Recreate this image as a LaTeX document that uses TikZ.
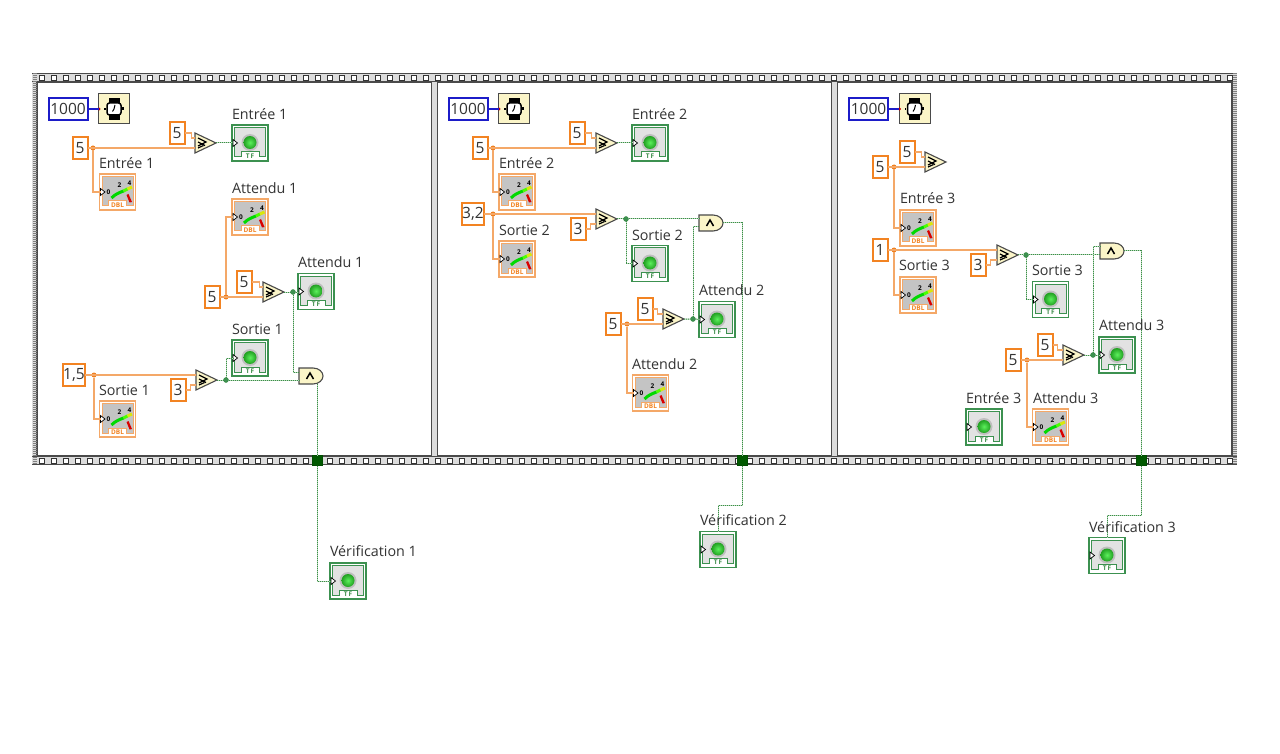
\documentclass[tikz,border=0pt]{standalone}
\usepackage{fontspec}
\setmainfont{Open Sans}
\definecolor{orgB}{HTML}{F28322}
\definecolor{orgW}{HTML}{F4A868}
\definecolor{orgJ}{HTML}{F08020}
\definecolor{grnD}{HTML}{3C8C48}
\definecolor{grnL}{HTML}{B5DAB8}
\definecolor{grnB}{HTML}{3C9150}
\definecolor{ledI}{HTML}{5CF05C}
\definecolor{ledO}{HTML}{22A022}
\definecolor{bluB}{HTML}{1C1CC8}
\definecolor{cream}{HTML}{FBF5C8}
\definecolor{panelG}{HTML}{E2E2E2}
\definecolor{meterG}{HTML}{C4C4C4}
\definecolor{txtG}{HTML}{333333}
\definecolor{edgeG}{HTML}{4A4A4A}
\definecolor{stripG}{HTML}{DCDCDC}
\tikzset{
 lab/.style={anchor=west,inner sep=0pt,outer sep=0pt,text=txtG,font=\fontsize{14.3}{16}\selectfont},
 cst/.style={draw=orgB,line width=2pt,fill=white,inner sep=0pt,outer sep=0pt,minimum width=15pt,minimum height=22pt,text=txtG,font=\fontsize{15.5}{17}\selectfont},
 cstb/.style={cst,draw=bluB,minimum width=39pt},
 tinyt/.style={inner sep=0pt,font=\fontsize{6.5}{7}\selectfont\bfseries},
 indbox/.style={draw=grnB,line width=1.1pt,fill=white,minimum size=36pt,inner sep=0pt,outer sep=0pt},
 metbox/.style={draw=orgW,line width=1.1pt,fill=white,minimum size=36pt,inner sep=0pt,outer sep=0pt},
 watchbox/.style={draw=edgeG,line width=1pt,fill=cream,minimum width=31pt,minimum height=30pt,inner sep=0pt,outer sep=0pt},
 tunnel/.style={draw=black!70!green,fill=green!35!black,line width=.6pt,minimum size=10pt,inner sep=0pt,outer sep=0pt},
 ojun/.style={circle,fill=orgJ,minimum size=5pt,inner sep=0pt,outer sep=0pt},
 gjun/.style={circle,fill=grnB,draw=grnD,line width=.4pt,minimum size=5pt,inner sep=0pt,outer sep=0pt},
 owire/.style={draw=orgW,line width=1.5pt},
 gwire/.style={draw=grnD,line width=1pt,dash pattern=on 1pt off 1pt,preaction={draw=grnL,line width=1pt,solid}},
 bwire/.style={draw=bluB,line width=1.2pt},
}
\newcommand{\inpt}{\draw[black,fill=white,line width=.7pt] (-17,-3.5) -- (-12.5,0) -- (-17,3.5) -- cycle;}
\newcommand{\indic}[3]{%
 \node[indbox] (#1) at (#2,#3) {};
 \begin{scope}[shift={(#2,#3)}]
  \draw[grnB,line width=1pt,fill=panelG] (-15.5,-15.5) -- (15.5,-15.5) -- (15.5,14) -- (9,14) -- (9,9) -- (-9,9) -- (-9,14) -- (-15.5,14) -- cycle;
  \fill[gray!50] (0,-0.5) circle (8.5pt);
  \shade[inner color=ledI,outer color=ledO] (0,-0.5) circle (6.5pt);
  \node[tinyt,text=grnD] at (0,13) {T\,F};
  \inpt
  \coordinate (#1-in) at (-17,0);
 \end{scope}}
\newcommand{\meter}[3]{%
 \node[metbox] (#1) at (#2,#3) {};
 \begin{scope}[shift={(#2,#3)}]
  \draw[orgW,line width=1pt,fill=meterG] (-15.5,-15.5) -- (15.5,-15.5) -- (15.5,14) -- (9,14) -- (9,9) -- (-9,9) -- (-9,14) -- (-15.5,14) -- cycle;
  \draw[green!85!black,line width=3pt] (-6,6) .. controls (-2,2) and (1,1) .. (6,-1);
  \draw[green!70!yellow,line width=3pt] (6,-1) -- (10,-3);
  \draw[yellow!85!green,line width=3pt] (10,-3) -- (14.5,-5);
  \fill[red!85!black] (9,3) -- (11,2) -- (14.5,10) -- (12,10.5) -- cycle;
  \node[tinyt,text=black] at (-9,0) {0};
  \node[tinyt,text=black] at (2,-7) {2};
  \node[tinyt,text=black] at (12,-8.5) {4};
  \node[tinyt,text=orgB] at (0,13) {DBL};
  \inpt
  \coordinate (#1-in) at (-17,0);
 \end{scope}}
\newcommand{\cmpr}[3]{%
 \begin{scope}[shift={(#2,#3)}]
  \draw[edgeG,line width=1.1pt,fill=cream,line join=miter] (0,-10) -- (21,0) -- (0,10) -- cycle;
  \draw[black,line width=1.2pt] (3,-5) -- (11,-1) -- (3,3);
  \draw[black,line width=1.2pt] (3,-1) -- (10,2.5);
  \draw[black,line width=1.2pt] (3,5) -- (8.5,2.5);
  \coordinate (#1-a) at (0,-5);
  \coordinate (#1-b) at (0,5);
  \coordinate (#1-o) at (21,0);
 \end{scope}}
\newcommand{\andg}[3]{%
 \begin{scope}[shift={(#2,#3)}]
  \draw[edgeG,line width=1.1pt,fill=cream] (0,-8) -- (14,-8) .. controls (20,-8) and (24,-4) .. (24,0) .. controls (24,4) and (20,8) .. (14,8) -- (0,8) -- cycle;
  \draw[black,line width=1.5pt] (7.5,3) -- (11,-3) -- (14.5,3);
  \coordinate (#1-a) at (0,-4);
  \coordinate (#1-b) at (0,4);
  \coordinate (#1-o) at (24,0);
  \coordinate (#1-s) at (18,7.5);
 \end{scope}}
\newcommand{\watchic}[3]{%
 \node[watchbox] (#1) at (#2,#3) {};
 \begin{scope}[shift={(#2,#3)}]
  \fill[black] (-5.5,-11) rectangle (5.5,-5);
  \fill[black] (-5.5,5) rectangle (5.5,11);
  \draw[black,line width=1.5pt,fill=white,rounded corners=2.5pt] (-7,-6) rectangle (7,6);
  \fill[black] (7,-1.5) rectangle (9.5,1.5);
  \fill[black] (-10,-1) rectangle (-8.5,1);
  \draw[black,line width=1pt] (0,0) -- (1,-4) (0,0) -- (-1.5,2.5);
  \fill[red!80!black] (-15,0) circle (1.6pt);
 \end{scope}}
\begin{document}
\begin{tikzpicture}[x=1pt,y=-1pt]
\useasboundingbox (0,0) rectangle (1280,754);
\fill[white] (0,0) rectangle (1280,754);
% frame
\fill[stripG] (32,73) rectangle (1237,465);
\fill[white] (37,82) rectangle (431,456);
\fill[white] (438,82) rectangle (831,456);
\fill[white] (838,82) rectangle (1232,456);
\draw[edgeG,line width=1.2pt] (37,82) rectangle (431.5,456);
\draw[edgeG,line width=1.2pt] (437.5,82) rectangle (831.5,456);
\draw[edgeG,line width=1.2pt] (837.5,82) rectangle (1232,456);
\draw[edgeG,line width=1.2pt] (32,73.5) -- (1237,73.5) (32,81.5) -- (1237,81.5) (32,456.5) -- (1237,456.5) (32,464.5) -- (1237,464.5);
\draw[gray,line width=4pt,dash pattern=on 1pt off 1pt] (34.5,73) -- (34.5,465) (1234.5,73) -- (1234.5,465);
\foreach \hx in {42,54,...,1230}{
 \draw[black!80,line width=.8pt,fill=white] (\hx-2.5,75) rectangle (\hx+2.5,80);
 \draw[black!80,line width=.8pt,fill=white] (\hx-2.5,458) rectangle (\hx+2.5,463);
}
% ---------- panel 1
\node[cstb] (ms1) at (68,109) {1000};
\watchic{w1}{114}{109}
\node[cst] (k11) at (80,148) {5};
\node[cst] (k12) at (177,133) {5};
\cmpr{c11}{195}{143}
\indic{ie1}{250}{143}
\meter{me1}{117.5}{192}
\meter{ma1}{250}{217}
\node[cst] (k13) at (212,297) {5};
\node[cst] (k14) at (244,282) {5};
\cmpr{c12}{263}{292}
\indic{ia1}{316}{291.5}
\indic{is1}{250}{358}
\node[cst] (k15) at (74,375) {1,5};
\node[cst] (k16) at (178,390) {3};
\cmpr{c13}{196}{380}
\meter{ms1m}{117.5}{419}
\andg{a1}{299}{376}
\node[tunnel] (t1) at (317,460.5) {};
\indic{v1}{348}{581}
\node[ojun] (j11) at (93,148) {};
\node[ojun] (j12) at (226,297) {};
\node[ojun] (j13) at (94,375) {};
\node[gjun] (g11) at (293,292) {};
\node[gjun] (g12) at (226,380) {};
\draw[bwire] (ms1.east) -- (w1.west);
\draw[owire] (k11.east) -- (c11-b);
\draw[owire] (k12.east) -- ++(7,0) |- (c11-a);
\draw[owire] (j11) |- (me1-in);
\draw[gwire] (c11-o) -- (ie1-in);
\draw[owire] (j12) |- (ma1-in);
\draw[owire] (k13.east) -- (c12-b);
\draw[owire] (k14.east) -- ++(8,0) |- (c12-a);
\draw[gwire] (c12-o) -- (g11) -- (g11 -| ia1-in);
\draw[gwire] (g11) |- (a1-a);
\draw[owire] (k15.east) -- (c13-a);
\draw[owire] (j13) |- (ms1m-in);
\draw[owire] (k16.east) -- ++(5,0) |- (c13-b);
\draw[gwire] (c13-o) -- (g12);
\draw[gwire] (g12) -- (a1-b);
\draw[gwire] (g12) |- (is1-in);
\draw[gwire] (a1-s) -- (t1.north);
\draw[gwire] (t1.south) |- (v1-in);
\node[lab] (l11) at (232,114) {Entrée 1};
\node[lab] (l12) at (99,163) {Entrée 1};
\node[lab] (l13) at (232,188) {Attendu 1};
\node[lab] (l14) at (298,262) {Attendu 1};
\node[lab] (l15) at (232,329) {Sortie 1};
\node[lab] (l16) at (99,390) {Sortie 1};
\node[lab] (l17) at (330,551) {Vérification 1};
% ---------- panel 2
\node[cstb] (ms2) at (468,109) {1000};
\watchic{w2}{514}{109}
\node[cst] (k21) at (480,148) {5};
\node[cst] (k22) at (577,133) {5};
\cmpr{c21}{596}{143}
\indic{ie2}{650}{143}
\meter{me2}{517}{192}
\node[cst] (k23) at (473,214) {3,2};
\node[cst] (k24) at (578,229) {3};
\cmpr{c22}{596}{219}
\meter{ms2m}{517}{259}
\indic{is2}{650}{263.5}
\andg{a2}{699}{223}
\node[cst] (k25) at (613,324) {5};
\node[cst] (k26) at (645,309) {5};
\cmpr{c23}{663}{319}
\indic{ia2}{717}{319.5}
\meter{ma2}{650.5}{393}
\node[tunnel] (t2) at (742,460.5) {};
\coordinate (b2) at (742,505);
\indic{v2}{718}{549.5}
\node[ojun] (j21) at (493,148) {};
\node[ojun] (j22) at (493,214) {};
\node[ojun] (j23) at (627,324) {};
\node[gjun] (g21) at (626,219) {};
\node[gjun] (g22) at (693,319) {};
\draw[bwire] (ms2.east) -- (w2.west);
\draw[owire] (k21.east) -- (c21-b);
\draw[owire] (k22.east) -- ++(7,0) |- (c21-a);
\draw[owire] (j21) |- (me2-in);
\draw[gwire] (c21-o) -- (ie2-in);
\draw[owire] (k23.east) -- (c22-a);
\draw[owire] (j22) |- (ms2m-in);
\draw[owire] (k24.east) -- ++(5,0) |- (c22-b);
\draw[gwire] (c22-o) -- (g21);
\draw[gwire] (g21) -- (a2-a);
\draw[gwire] (g21) |- (is2-in);
\draw[owire] (k25.east) -- (c23-b);
\draw[owire] (k26.east) -- ++(5,0) |- (c23-a);
\draw[owire] (j23) |- (ma2-in);
\draw[gwire] (c23-o) -- (g22) -- (ia2-in);
\draw[gwire] (g22) |- (a2-b);
\draw[gwire] (a2-o) -| (t2.north);
\draw[gwire] (t2.south) -- (b2) -| (v2.north);
\node[lab] (l21) at (632,114) {Entrée 2};
\node[lab] (l22) at (499,163) {Entrée 2};
\node[lab] (l23) at (499,230) {Sortie 2};
\node[lab] (l24) at (632,235) {Sortie 2};
\node[lab] (l25) at (699,290) {Attendu 2};
\node[lab] (l26) at (632,364) {Attendu 2};
\node[lab] (l27) at (700,520) {Vérification 2};
% ---------- panel 3
\node[cstb] (ms3) at (868.5,109) {1000};
\watchic{w3}{914.5}{109}
\node[cst] (k31) at (880,167) {5};
\node[cst] (k32) at (907,152) {5};
\cmpr{c31}{925}{162}
\meter{me3}{918}{228}
\node[cst] (k33) at (880,250) {1};
\node[cst] (k34) at (978,265) {3};
\cmpr{c32}{997}{255}
\meter{ms3m}{918}{295}
\indic{is3}{1050.5}{299.5}
\andg{a3}{1100}{251}
\node[cst] (k35) at (1013,360) {5};
\node[cst] (k36) at (1045,345) {5};
\cmpr{c33}{1063}{355}
\indic{ia3}{1117}{355}
\indic{ie3}{984}{427}
\meter{ma3}{1050.5}{427}
\node[tunnel] (t3) at (1141,460.5) {};
\coordinate (b3) at (1141,515);
\indic{v3}{1107}{555.5}
\node[ojun] (j31) at (894,167) {};
\node[ojun] (j32) at (894,250) {};
\node[ojun] (j33) at (1027,360) {};
\node[gjun] (g31) at (1026,255) {};
\node[gjun] (g32) at (1093,355) {};
\draw[bwire] (ms3.east) -- (w3.west);
\draw[owire] (k31.east) -- (c31-b);
\draw[owire] (k32.east) -- ++(7,0) |- (c31-a);
\draw[owire] (j31) |- (me3-in);
\draw[owire] (k33.east) -- (c32-a);
\draw[owire] (j32) |- (ms3m-in);
\draw[owire] (k34.east) -- ++(5,0) |- (c32-b);
\draw[gwire] (c32-o) -- (g31);
\draw[gwire] (g31) -- (a3-b);
\draw[gwire] (g31) |- (is3-in);
\draw[owire] (k35.east) -- (c33-b);
\draw[owire] (k36.east) -- ++(5,0) |- (c33-a);
\draw[owire] (j33) |- (ma3-in);
\draw[gwire] (c33-o) -- (g32) -- (ia3-in);
\draw[gwire] (g32) |- (a3-a);
\draw[gwire] (a3-o) -| (t3.north);
\draw[gwire] (t3.south) -- (b3) -| (v3.north);
\node[lab] (l31) at (900,198) {Entrée 3};
\node[lab] (l32) at (899,265) {Sortie 3};
\node[lab] (l33) at (1032,270) {Sortie 3};
\node[lab] (l34) at (1099,325) {Attendu 3};
\node[lab] (l35) at (966,398) {Entrée 3};
\node[lab] (l36) at (1033,398) {Attendu 3};
\node[lab] (l37) at (1089,527) {Vérification 3};
\end{tikzpicture}
\end{document}
